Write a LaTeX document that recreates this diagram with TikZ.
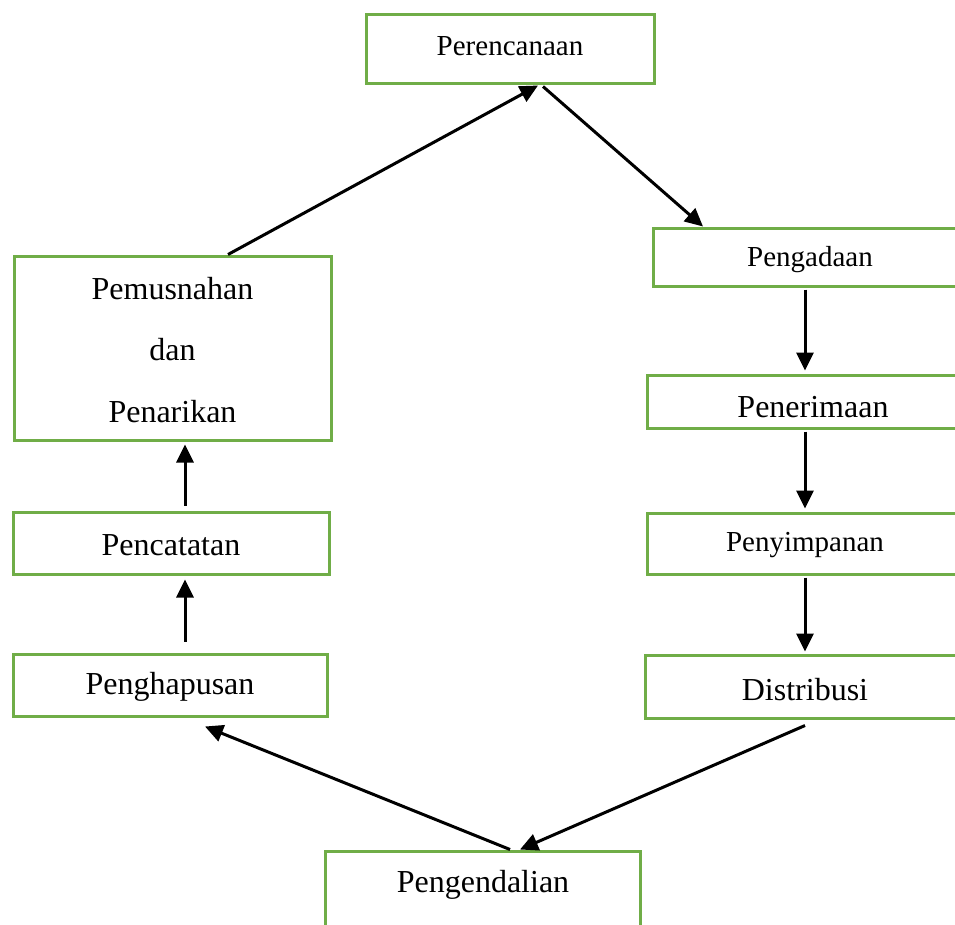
\documentclass[tikz,border=0pt]{standalone}
\usepackage{fontspec}
\setmainfont{Liberation Serif}
\usetikzlibrary{arrows.meta}
\definecolor{boxgreen}{RGB}{112,173,71}
\tikzset{
  box/.style={draw=boxgreen, line width=3pt, rectangle, inner sep=0pt},
  txt/.style={inner sep=0pt, font=\fontsize{32}{36}\selectfont},
  txts/.style={inner sep=0pt, font=\fontsize{29}{33}\selectfont},
  arr/.style={line width=3pt, -{Triangle[length=18pt,width=17pt]}},
}
\begin{document}
\begin{tikzpicture}[x=1pt,y=-1pt]
\useasboundingbox (0,0) rectangle (955,924);
\clip (0,0) rectangle (955,924);
% boxes
\node[box, minimum width=288pt, minimum height=69pt] (per) at (510,48.5) {};
\node[box, minimum width=314pt, minimum height=58pt] (pga) at (810,257) {};
\node[box, minimum width=332pt, minimum height=53pt] (pnr) at (813,401.5) {};
\node[box, minimum width=316pt, minimum height=61pt] (pny) at (805,543.5) {};
\node[box, minimum width=320pt, minimum height=63pt] (dis) at (805,686.5) {};
\node[box, minimum width=315pt, minimum height=84pt] (pge) at (482.5,893) {};
\node[box, minimum width=317pt, minimum height=184pt] (pem) at (172.5,348) {};
\node[box, minimum width=316pt, minimum height=62pt] (pca) at (171,543) {};
\node[box, minimum width=314pt, minimum height=62pt] (pgh) at (170,685) {};
% texts
\node[txts] (tper) at (510,46) {Perencanaan};
\node[txts] (tpga) at (810,260) {Pengadaan};
\node[txt] (tpnr) at (813,407) {Penerimaan};
\node[txts] (tpny) at (805,545) {Penyimpanan};
\node[txt] (tdis) at (805,690) {Distribusi};
\node[txt] (tpge) at (483,885) {Pengendalian};
\node[txt] (tpem1) at (172.5,289) {Pemusnahan};
\node[txt] (tpem2) at (172.5,350) {dan};
\node[txt] (tpem3) at (172.5,412) {Penarikan};
\node[txt] (tpca) at (171,545) {Pencatatan};
\node[txt] (tpgh) at (170,687) {Penghapusan};
% arrows
\draw[arr] ([xshift=55.5pt]pem.north) -- ([xshift=28pt,yshift=-1pt]per.south);
\draw[arr] ([xshift=33pt,yshift=-2pt]per.south) -- ([xshift=-107pt]pga.north);
\draw[arr] ([xshift=-5pt,yshift=-2pt]pga.south) -- ([xshift=-8pt,yshift=3pt]pnr.north);
\draw[arr] ([xshift=-8pt,yshift=-2pt]pnr.south) -- ([yshift=3pt]pny.north);
\draw[arr] ([yshift=-2pt]pny.south) -- ([yshift=2pt]dis.north);
\draw[arr] ([yshift=-6pt]dis.south) -- ([xshift=37.5pt]pge.north);
\draw[arr] ([xshift=27.5pt]pge.north) -- ([xshift=35pt,yshift=-9pt]pgh.south);
\draw[arr] ([xshift=15pt,yshift=11pt]pgh.north) -- ([xshift=14pt,yshift=-4pt]pca.south);
\draw[arr] ([xshift=14pt,yshift=5pt]pca.north) -- ([xshift=12.5pt,yshift=-3pt]pem.south);
\end{tikzpicture}
\end{document}
